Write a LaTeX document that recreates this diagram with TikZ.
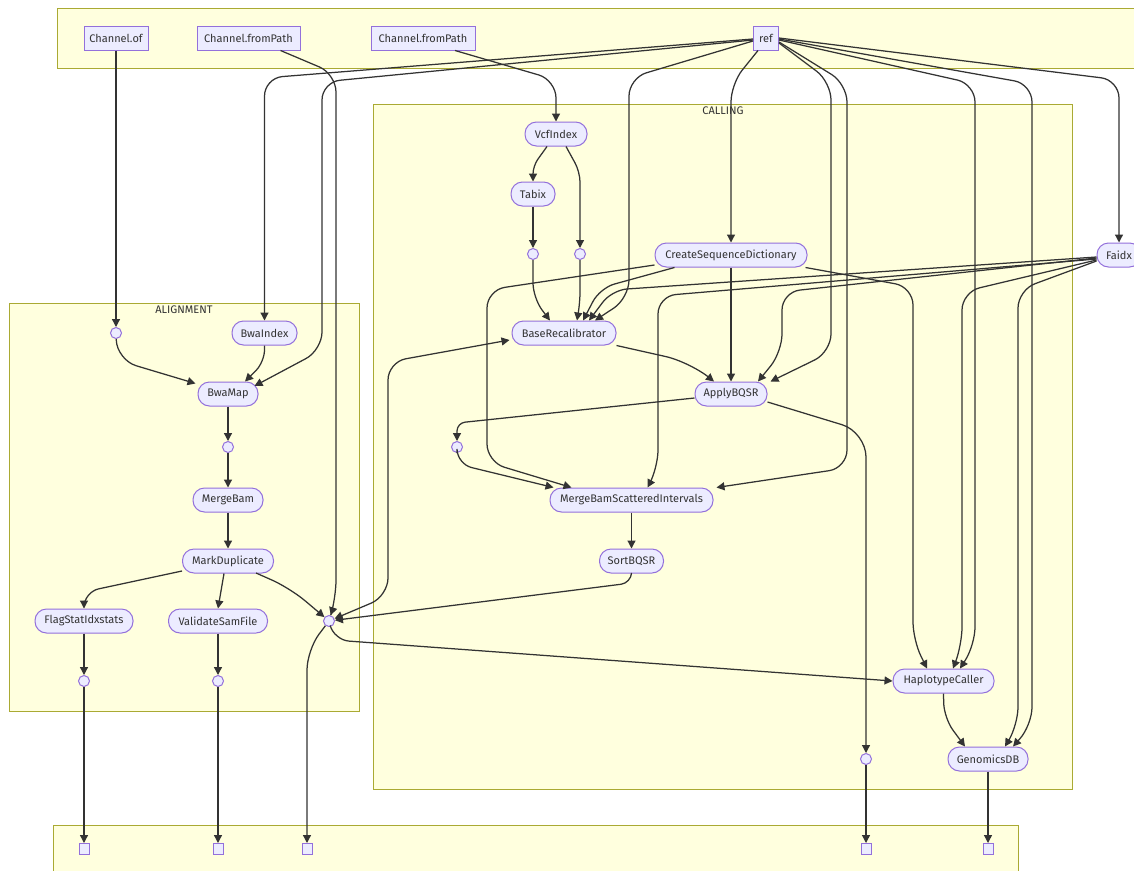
\documentclass[tikz,border=0pt]{standalone}
\usepackage{fontspec}
\setmainfont{Fira Sans}
\usetikzlibrary{arrows.meta,calc}
\definecolor{nodef}{HTML}{ECECFF}
\definecolor{nodeb}{HTML}{9370DB}
\definecolor{clf}{HTML}{FFFFDE}
\definecolor{clb}{HTML}{AAAA33}
\definecolor{edgec}{HTML}{333333}
\definecolor{txt}{HTML}{333333}
\begin{document}
\begin{tikzpicture}[x=1pt,y=-1pt,
  every node/.style={font=\fontsize{11}{13}\selectfont, text=txt},
  proc/.style={draw=nodeb, fill=nodef, line width=1pt, rounded corners=11.5pt, minimum height=24pt, inner sep=0pt},
  src/.style={draw=nodeb, fill=nodef, line width=1pt, minimum height=24pt, inner sep=0pt},
  pt/.style={circle, draw=nodeb, fill=nodef, line width=1pt, minimum size=11pt, inner sep=0pt},
  sq/.style={draw=nodeb, fill=nodef, line width=1pt, minimum width=10pt, minimum height=11pt, inner sep=0pt},
  clus/.style={draw=clb, fill=clf, line width=1pt},
  e/.style={draw=edgec, line width=1.25pt, rounded corners=18pt, -{Triangle[length=8pt,width=8pt]}},
  ee/.style={draw=edgec, line width=1.25pt, rounded corners=18pt, {Triangle[length=8pt,width=8pt]}-{Triangle[length=8pt,width=8pt]}},
]
\useasboundingbox (0,0) rectangle (1134,870);
\fill[white] (0,0) rectangle (1134,870);
% clusters
\draw[clus] (57,8) rectangle (1150,68);
\draw[clus] (373,104) rectangle (1072,789);
\draw[clus] (9,303) rectangle (359,711);
\draw[clus] (53,825) rectangle (1018,890);
\node (lcall) at (723,111) {CALLING};
\node (lalign) at (184,310) {ALIGNMENT};
% source nodes
\node[src, minimum width=64pt] (cof) at (116,38) {Channel.of};
\node[src, minimum width=103pt] (fp1) at (248.5,38) {Channel.fromPath};
\node[src, minimum width=104pt] (fp2) at (423,38) {Channel.fromPath};
\node[src, minimum width=25pt] (ref) at (766,38) {ref};
% processes
\node[proc, minimum width=62pt] (vcf) at (556,134) {VcfIndex};
\node[proc, minimum width=44pt] (tabix) at (533,194) {Tabix};
\node[pt] (c533) at (533,254) {};
\node[pt] (c580) at (580,254) {};
\node[proc, minimum width=152pt] (csd) at (731,255) {CreateSequenceDictionary};
\node[proc, minimum width=44pt] (faidx) at (1119,255) {Faidx};
\node[proc, minimum width=104pt] (br) at (564,333) {BaseRecalibrator};
\node[proc, minimum width=65pt] (bwaindex) at (264.5,333) {BwaIndex};
\node[pt] (c116) at (116,333) {};
\node[proc, minimum width=60pt] (bwamap) at (228,394) {BwaMap};
\node[proc, minimum width=72pt] (apply) at (731,394) {ApplyBQSR};
\node[pt] (c228) at (228,447) {};
\node[pt] (c457) at (457,447) {};
\node[proc, minimum width=70pt] (mergebam) at (228,500) {MergeBam};
\node[proc, minimum width=163pt] (mbsi) at (631.5,500) {MergeBamScatteredIntervals};
\node[proc, minimum width=91pt] (md) at (228,561) {MarkDuplicate};
\node[proc, minimum width=64pt] (sort) at (631.5,561) {SortBQSR};
\node[proc, minimum width=98pt] (flag) at (84,621) {FlagStatIdxstats};
\node[proc, minimum width=99pt] (valid) at (218,621) {ValidateSamFile};
\node[pt] (cjoin) at (329,621) {};
\node[pt] (c84) at (84,681) {};
\node[pt] (c218) at (218,681) {};
\node[proc, minimum width=101pt] (hc) at (943.5,681) {HaplotypeCaller};
\node[pt] (c866) at (866,759) {};
\node[proc, minimum width=80pt] (gdb) at (988,759) {GenomicsDB};
\node[sq] (sq84) at (84,849) {};
\node[sq] (sq218) at (218,849) {};
\node[sq] (sq307) at (307,849) {};
\node[sq] (sq866) at (866,849) {};
\node[sq] (sq988) at (988,849) {};
% edges
\draw[e] (cof) -- (c116);
\draw[e] ($(fp1.south)+(32,0)$) -- (336,74) -- (336,598) -- (cjoin);
\draw[e] ($(fp2.south)+(32,0)$) -- (556,80) -- (vcf.north);
\draw[e] ($(ref.west)+(0,1)$) -- (264.5,78) -- (bwaindex.north);
\draw[e] ($(ref.west)+(0,2)$) -- (322,82) -- (322,350) -- ($(bwamap.east)+(-4,-8)$);
\draw[e] ($(ref.west)+(0,3)$) -- (629,78) -- (629,298) -- ($(br.north)+(31,0)$);
\draw[e] ($(ref.south)+(-8,0)$) -- (731,84) -- (csd.north);
\draw[e] ($(ref.east)+(0,5)$) -- (831,82) -- (831,352) -- ($(apply.north east)+(3,0)$);
\draw[e] ($(ref.east)+(0,4)$) -- (847,84) -- (847,468) -- ($(mbsi.north east)+(3,0)$);
\draw[e] ($(ref.east)+(0,2)$) -- (975,84) -- (975,645) -- ($(hc.north)+(16.5,0)$);
\draw[e] ($(ref.east)+(0,1)$) -- (1032,84) -- (1032,725) -- ($(gdb.north)+(25,0)$);
\draw[e] (ref.east) -- (1119,80) -- (faidx.north);
\draw[e, rounded corners=8pt] ($(vcf.south)+(-9,0)$) -- (533,166) -- (tabix.north);
\draw[e, rounded corners=10pt] ($(vcf.south)+(10,0)$) -- (580,172) -- (c580);
\draw[e] (tabix) -- (c533);
\draw[e, rounded corners=15pt] (c533) -- (533,298) -- ($(br.north)+(-14,0)$);
\draw[e, rounded corners=10pt] (c580) -- (580,302) -- ($(br.north)+(13,0)$);
\draw[e, rounded corners=15pt] ($(csd.south west)+(20,0)$) -- (600,288) -- ($(br.north)+(19,0)$);
\draw[e, rounded corners=15pt] ($(faidx.west)+(0,2)$) -- (612,290) -- ($(br.north)+(25,0)$);
\draw[e] ($(csd.west)+(0,10)$) -- (487,290) -- (487,462) -- ($(mbsi.north)+(-60,0)$);
\draw[e] (csd) -- (apply);
\draw[e] ($(csd.south east)+(-2,0)$) -- (913,287) -- (913,640) -- ($(hc.north)+(-16.5,0)$);
\draw[e] ($(faidx.west)+(0,4)$) -- (658,296) -- (658,468) -- ($(mbsi.north)+(16,0)$);
\draw[e] ($(faidx.west)+(0,3)$) -- (782,292) -- (782,352) -- ($(apply.north)+(27,0)$);
\draw[e] ($(faidx.west)+(0,5)$) -- (962,292) -- (962,645) -- ($(hc.north)+(9.5,0)$);
\draw[e] ($(faidx.west)+(0,6)$) -- (1018,290) -- (1018,725) -- ($(gdb.north)+(17,0)$);
\draw[e, rounded corners=25pt] (br.south east) -- (690,362) -- ($(apply.north)+(-17,0)$);
\draw[e, rounded corners=8pt] ($(apply.west)+(0,4)$) -- (457,423) -- (c457.north);
\draw[e, rounded corners=25pt] ($(apply.east)+(0,8)$) -- (866,432) -- (c866);
\draw[e, rounded corners=15pt] (c457) -- (457,464) -- ($(mbsi.north)+(-78,0)$);
\draw[e] (mbsi) -- (sort);
\draw[e, rounded corners=10pt] (sort.south) -- (631,583) -- (cjoin);
\draw[ee] (cjoin) -- (388,596) -- (388,362) -- ($(br.west)+(-2,7)$);
\draw[e, rounded corners=15pt] (cjoin) -- (334,640) -- (hc.west);
\draw[e, rounded corners=20pt] (cjoin) -- (307,650) -- (sq307);
\draw[e, rounded corners=20pt] ($(md.east)+(-18,12)$) -- (290,588) -- (cjoin);
\draw[e, rounded corners=15pt] ($(md.west)+(0,10)$) -- (84,592) -- (flag);
\draw[e] ($(md.south)+(-4,0)$) -- (valid.north);
\draw[e] (mergebam) -- (md);
\draw[e] (c228) -- (mergebam);
\draw[e] (bwamap) -- (c228);
\draw[e, rounded corners=12pt] (bwaindex.south) -- (264.5,362) -- ($(bwamap.north)+(17,0)$);
\draw[e, rounded corners=20pt] (c116) -- (117,360) -- ($(bwamap.north west)+(-2,2)$);
\draw[e] (flag) -- (c84);
\draw[e] (valid) -- (c218);
\draw[e] (c84) -- (sq84);
\draw[e] (c218) -- (sq218);
\draw[e] (c866) -- (sq866);
\draw[e] (gdb) -- (sq988);
\draw[e, rounded corners=15pt] (hc.south) -- (944,718) -- ($(gdb.north)+(-23,0)$);
\end{tikzpicture}
\end{document}
